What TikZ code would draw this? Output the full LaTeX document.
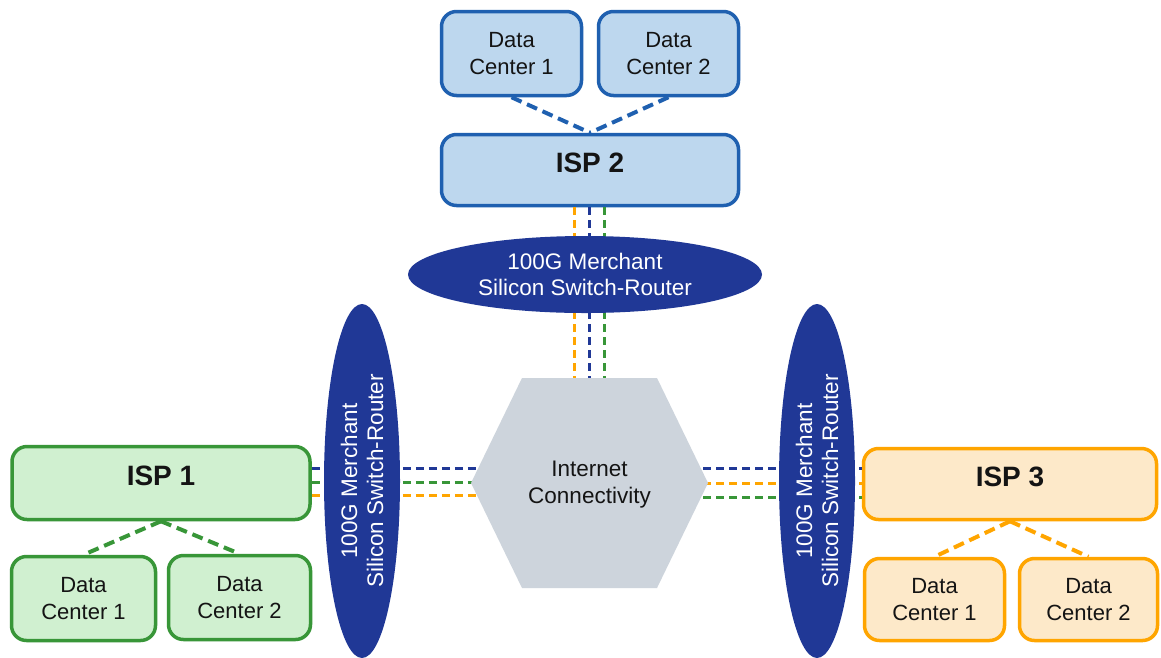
\documentclass[tikz,border=0pt]{standalone}
\usepackage{fontspec}
\setmainfont{Liberation Sans}
\usetikzlibrary{shapes.geometric}
\definecolor{bB}{RGB}{31,96,176}
\definecolor{bF}{RGB}{189,215,238}
\definecolor{gB}{RGB}{56,150,56}
\definecolor{gF}{RGB}{208,240,208}
\definecolor{oB}{RGB}{255,165,0}
\definecolor{oF}{RGB}{253,233,201}
\definecolor{navy}{RGB}{32,56,150}
\definecolor{hexF}{RGB}{205,212,220}
\definecolor{txt}{RGB}{20,20,20}
\newcommand{\ispl}[1]{\raisebox{15pt}{#1}}
\begin{document}
\begin{tikzpicture}[x=1pt,y=-1pt,
  box/.style={rectangle,rounded corners=15pt,line width=3.5pt,inner sep=0pt,align=center,text=txt,font=\fontsize{22}{27}\selectfont},
  bbox/.style={box,draw=bB,fill=bF},
  gbox/.style={box,draw=gB,fill=gF},
  obox/.style={box,draw=oB,fill=oF},
  isp/.style={font=\fontsize{28}{32}\selectfont\bfseries},
  dclink/.style={line width=4pt,dash pattern=on 11pt off 6pt},
  link/.style={line width=3pt,dash pattern=on 8pt off 5pt},
  router/.style={ellipse,fill=navy,text=white,inner sep=0pt,align=center,font=\fontsize{22.5}{26}\selectfont}
]
\useasboundingbox (0,0) rectangle (1161,657);
\fill[white] (0,0) rectangle (1161,657);

% boxes
\node[bbox,minimum width=140pt,minimum height=84pt] (tdc1) at (511.5,53.5) {Data\\Center 1};
\node[bbox,minimum width=140pt,minimum height=84pt] (tdc2) at (668.5,53.5) {Data\\Center 2};
\node[bbox,isp,minimum width=297pt,minimum height=71pt] (isp2) at (590,170) {\ispl{ISP 2}};

\node[gbox,isp,minimum width=298pt,minimum height=73pt] (isp1) at (161,483) {\ispl{ISP 1}};
\node[gbox,minimum width=144pt,minimum height=84pt] (ldc1) at (83.5,598.5) {Data\\Center 1};
\node[gbox,minimum width=142pt,minimum height=84pt] (ldc2) at (239.5,597.5) {Data\\Center 2};

\node[obox,isp,minimum width=293pt,minimum height=71pt] (isp3) at (1010,484) {\ispl{ISP 3}};
\node[obox,minimum width=140pt,minimum height=82pt] (rdc1) at (934.5,599.5) {Data\\Center 1};
\node[obox,minimum width=138pt,minimum height=82pt] (rdc2) at (1088.5,599.5) {Data\\Center 2};

% data center links
\draw[dclink,bB] (tdc1.south) -- (isp2.north);
\draw[dclink,bB] (tdc2.south) -- (isp2.north);
\draw[dclink,gB] (isp1.south) -- (ldc1.north);
\draw[dclink,gB] (isp1.south) -- (ldc2.north);
\draw[dclink,oB] (isp3.south) -- (rdc1.north);
\draw[dclink,oB] (isp3.south) -- (rdc2.north);

% hexagon anchors
\coordinate (hT) at (589,380);
\coordinate (hL1) at (490,468);
\coordinate (hL2) at (490,482);
\coordinate (hL3) at (490,495);
\coordinate (hR1) at (690,468);
\coordinate (hR2) at (690,483);
\coordinate (hR3) at (690,497);

% links
\draw[link,oB] ([xshift=-16pt]isp2.south) -- ([xshift=-16pt]isp2.south |- hT);
\draw[link,navy] ([xshift=-1pt]isp2.south) -- ([xshift=-1pt]isp2.south |- hT);
\draw[link,gB] ([xshift=14pt]isp2.south) -- ([xshift=14pt]isp2.south |- hT);

\draw[link,navy] (isp1.east |- hL1) -- (hL1);
\draw[link,gB] (isp1.east |- hL2) -- (hL2);
\draw[link,oB] (isp1.east |- hL3) -- (hL3);

\draw[link,navy] (hR1) -- (isp3.west |- hR1);
\draw[link,oB] (hR2) -- (isp3.west |- hR2);
\draw[link,gB] (hR3) -- (isp3.west |- hR3);

% hexagon
\fill[hexF] (471,483) -- (522,378) -- (657,378) -- (708,483) -- (657,588) -- (522,588) -- cycle;
\node[align=center,text=txt,font=\fontsize{22.5}{27}\selectfont] (inet) at (589.5,485) {Internet\\Connectivity};

% routers
\node[router,minimum width=354pt,minimum height=77pt] (r2) at (585,274.5) {100G Merchant\\Silicon Switch-Router};
\node[router,rotate=90,minimum width=354pt,minimum height=76pt] (r1) at (362,481) {100G Merchant\\Silicon Switch-Router};
\node[router,rotate=90,minimum width=354pt,minimum height=76pt] (r3) at (817,481) {100G Merchant\\Silicon Switch-Router};
\end{tikzpicture}
\end{document}
